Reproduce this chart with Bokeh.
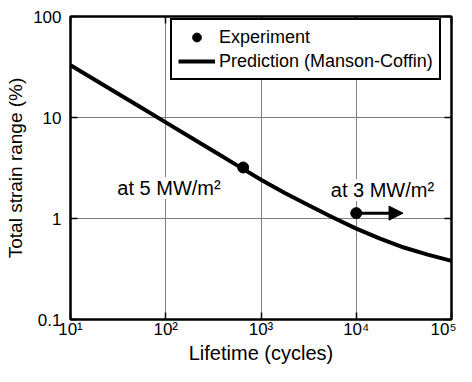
from bokeh.plotting import figure
from bokeh.models import (Range1d, FixedTicker, LogAxis, Legend, LegendItem, Label,
                          Arrow, NormalHead)
from bokeh.embed import file_html
from bokeh.resources import INLINE

# Prediction (Manson-Coffin) curve
pred_lifetime = [10, 17.8, 31.6, 56.2, 100, 178, 316, 562, 1000, 1778, 3162, 5623,
                 10000, 17783, 31623, 56234, 100000]
pred_strain = [33.0, 23.8, 17.2, 12.4, 8.95, 6.46, 4.66, 3.36, 2.42, 1.79, 1.35, 1.03,
               0.794, 0.631, 0.516, 0.439, 0.380]

# Experiments
exp_lifetime = [650, 10000]
exp_strain = [3.2, 1.13]

# Run-out arrow (specimen not yet failed)
arrow_lifetime = [10000, 31000]
arrow_strain = [1.13, 1.13]

# Annotations
label_texts = ["at 5 MW/m²", "at 3 MW/m²"]
label_lifetime = [31, 5400]
label_strain = [2.0, 1.91]

# Ticks
x_ticks = [10, 100, 1000, 10000, 100000]
x_tick_labels = ["10¹", "10²", "10³", "10⁴", "10⁵"]
y_ticks = [0.1, 1, 10, 100]
y_tick_labels = ["0.1", "1", "10", "100"]

FONT = "Liberation Sans"

p = figure(width=456, height=366, x_axis_type="log", y_axis_type="log",
           x_range=Range1d(10, 100000), y_range=Range1d(0.1, 100),
           output_backend="svg", toolbar_location=None,
           min_border_left=70, min_border_right=5, min_border_top=16, min_border_bottom=44)

p.background_fill_color = "white"
p.border_fill_color = "white"
p.outline_line_color = "black"
p.outline_line_width = 2

def style_axis(ax, ticks, labels):
    ax.ticker = FixedTicker(ticks=ticks)
    ax.major_label_overrides = dict(zip(ticks, labels))
    ax.major_tick_in = 7
    ax.major_tick_out = 0
    ax.major_tick_line_width = 1.5
    ax.major_tick_line_color = "black"
    ax.minor_tick_in = 0
    ax.minor_tick_out = 0
    ax.axis_line_color = "black"
    ax.axis_line_width = 2
    ax.major_label_text_font = FONT
    ax.major_label_text_font_size = "17px"
    ax.major_label_text_color = "black"
    ax.axis_label_text_font = FONT
    ax.axis_label_text_font_style = "normal"
    ax.axis_label_text_color = "black"

style_axis(p.xaxis[0], x_ticks, x_tick_labels)
style_axis(p.yaxis[0], y_ticks, y_tick_labels)
p.xaxis.axis_label = "Lifetime (cycles)"
p.yaxis.axis_label = "Total strain range (%)"
p.xaxis.axis_label_text_font_size = "20px"
p.yaxis.axis_label_text_font_size = "19px"
p.xaxis.major_label_standoff = 0
p.xaxis.axis_label_standoff = 0
p.yaxis.major_label_standoff = 9
p.yaxis.axis_label_standoff = 4

# mirrored inward ticks on top and right
for loc, ticks in (("above", x_ticks), ("right", y_ticks)):
    ax = LogAxis(ticker=FixedTicker(ticks=ticks), major_tick_in=7, major_tick_out=0,
                 major_tick_line_width=1.5, minor_tick_in=0, minor_tick_out=0,
                 axis_line_color="black", axis_line_width=2,
                 major_label_text_font_size="0px", major_label_standoff=0)
    ax.major_label_overrides = {t: "" for t in ticks}
    p.add_layout(ax, loc)

p.xgrid.ticker = FixedTicker(ticks=x_ticks)
p.ygrid.ticker = FixedTicker(ticks=y_ticks)
p.xgrid.grid_line_color = "#7f7f7f"
p.ygrid.grid_line_color = "#7f7f7f"
p.xgrid.grid_line_width = 1
p.ygrid.grid_line_width = 1

pred = p.line(pred_lifetime, pred_strain, line_color="black", line_width=4,
              line_join="round")
exp = p.scatter(exp_lifetime, exp_strain, size=11, marker="circle",
                fill_color="black", line_color="black")

p.add_layout(Arrow(end=NormalHead(size=14, fill_color="black", line_color="black"),
                   x_start=arrow_lifetime[0], y_start=arrow_strain[0],
                   x_end=arrow_lifetime[1], y_end=arrow_strain[1],
                   line_color="black", line_width=3))

for t, x, y in zip(label_texts, label_lifetime, label_strain):
    p.add_layout(Label(x=x, y=y, text=t, text_font=FONT, text_font_size="20px",
                       text_color="black", text_baseline="alphabetic", text_align="left",
                       background_fill_color="white"))

legend = Legend(items=[LegendItem(label="Experiment", renderers=[exp]),
                       LegendItem(label="Prediction (Manson-Coffin)", renderers=[pred])],
                location=(100, 239), orientation="vertical",
                label_text_font=FONT, label_text_font_size="18px", label_text_color="black",
                glyph_width=37, glyph_height=22, label_height=22, label_standoff=4,
                padding=6, spacing=2, margin=0,
                border_line_color="black", border_line_width=2, border_line_alpha=1.0,
                background_fill_color="white", background_fill_alpha=1.0)
p.add_layout(legend, "center")

open("out.html", "w").write(file_html(p, INLINE))
